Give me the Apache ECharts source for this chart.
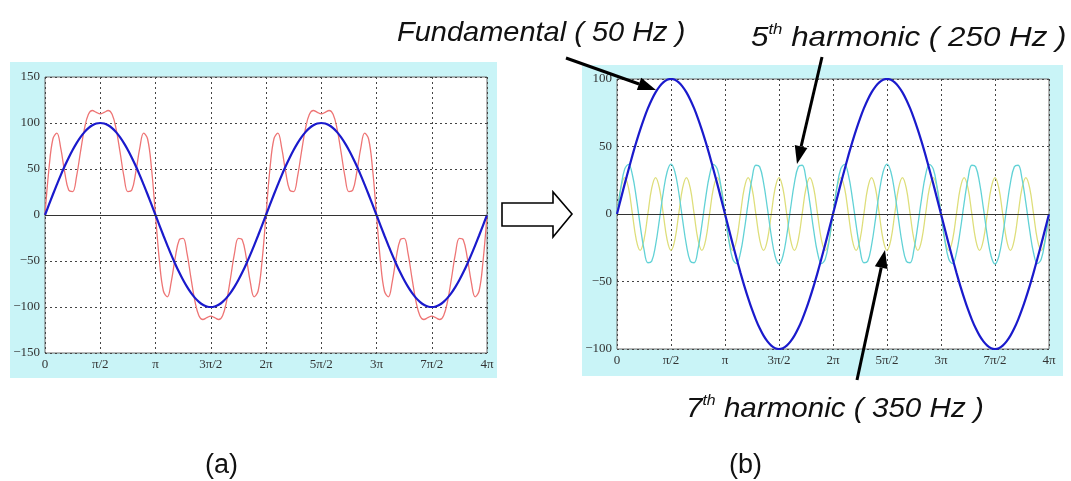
<!DOCTYPE html>
<html>
<head>
<meta charset="utf-8">
<script src="https://cdn.jsdelivr.net/npm/echarts@6/dist/echarts.min.js"></script>
<style>
html,body{margin:0;padding:0;background:#fff;}
#chart{width:1071px;height:481px;}
</style>
</head>
<body>
<div id="chart"></div>
<script>
// Sample spacing along x, in units of pi (x = index * X_STEP * pi)
const X_STEP = 1 / 28;
const X_TICK_LABELS = ['0', 'π/2', 'π', '3π/2', '2π', '5π/2', '3π', '7π/2', '4π'];

// Fundamental (50 Hz)
const fundamental = [
  0,
  11.2, 22.3, 33.0, 43.4, 53.2, 62.3, 70.7, 78.2, 84.7, 90.1, 94.4, 97.5, 99.4, 100, 99.4, 97.5, 94.4, 90.1, 84.7, 78.2, 70.7, 62.3, 53.2, 43.4, 33.0, 22.3, 11.2, 0,
  -11.2, -22.3, -33.0, -43.4, -53.2, -62.3, -70.7, -78.2, -84.7, -90.1, -94.4, -97.5, -99.4, -100, -99.4, -97.5, -94.4, -90.1, -84.7, -78.2, -70.7, -62.3, -53.2, -43.4, -33.0, -22.3, -11.2, 0,
  11.2, 22.3, 33.0, 43.4, 53.2, 62.3, 70.7, 78.2, 84.7, 90.1, 94.4, 97.5, 99.4, 100, 99.4, 97.5, 94.4, 90.1, 84.7, 78.2, 70.7, 62.3, 53.2, 43.4, 33.0, 22.3, 11.2, 0,
  -11.2, -22.3, -33.0, -43.4, -53.2, -62.3, -70.7, -78.2, -84.7, -90.1, -94.4, -97.5, -99.4, -100, -99.4, -97.5, -94.4, -90.1, -84.7, -78.2, -70.7, -62.3, -53.2, -43.4, -33.0, -22.3, -11.2, 0
];

// 5th harmonic (250 Hz)
const harmonic5 = [
  0,
  19.7, 33.3, 36.8, 28.9, 12.2, -8.2, -26.2, -36.1, -34.9, -23.1, -4.1, 16.1, 31.3, 37, 31.3, 16.1, -4.1, -23.1, -34.9, -36.1, -26.2, -8.2, 12.2, 28.9, 36.8, 33.3, 19.7, 0,
  -19.7, -33.3, -36.8, -28.9, -12.2, 8.2, 26.2, 36.1, 34.9, 23.1, 4.1, -16.1, -31.3, -37, -31.3, -16.1, 4.1, 23.1, 34.9, 36.1, 26.2, 8.2, -12.2, -28.9, -36.8, -33.3, -19.7, 0,
  19.7, 33.3, 36.8, 28.9, 12.2, -8.2, -26.2, -36.1, -34.9, -23.1, -4.1, 16.1, 31.3, 37, 31.3, 16.1, -4.1, -23.1, -34.9, -36.1, -26.2, -8.2, 12.2, 28.9, 36.8, 33.3, 19.7, 0,
  -19.7, -33.3, -36.8, -28.9, -12.2, 8.2, 26.2, 36.1, 34.9, 23.1, 4.1, -16.1, -31.3, -37, -31.3, -16.1, 4.1, 23.1, 34.9, 36.1, 26.2, 8.2, -12.2, -28.9, -36.8, -33.3, -19.7, 0
];

// 7th harmonic (350 Hz)
const harmonic7 = [
  0,
  19.1, 27, 19.1, 0, -19.1, -27, -19.1, 0, 19.1, 27, 19.1, 0, -19.1, -27, -19.1, 0, 19.1, 27, 19.1, 0, -19.1, -27, -19.1, 0, 19.1, 27, 19.1, 0,
  -19.1, -27, -19.1, 0, 19.1, 27, 19.1, 0, -19.1, -27, -19.1, 0, 19.1, 27, 19.1, 0, -19.1, -27, -19.1, 0, 19.1, 27, 19.1, 0, -19.1, -27, -19.1, 0,
  19.1, 27, 19.1, 0, -19.1, -27, -19.1, 0, 19.1, 27, 19.1, 0, -19.1, -27, -19.1, 0, 19.1, 27, 19.1, 0, -19.1, -27, -19.1, 0, 19.1, 27, 19.1, 0,
  -19.1, -27, -19.1, 0, 19.1, 27, 19.1, 0, -19.1, -27, -19.1, 0, 19.1, 27, 19.1, 0, -19.1, -27, -19.1, 0, 19.1, 27, 19.1, 0, -19.1, -27, -19.1, 0
];

// Distorted waveform (fundamental + 5th + 7th)
const distorted = [
  0,
  50.0, 82.6, 88.9, 72.3, 46.3, 27.1, 25.4, 42.1, 68.9, 94.0, 109.4, 113.6, 111.6, 110, 111.6, 113.6, 109.4, 94.0, 68.9, 42.1, 25.4, 27.1, 46.3, 72.3, 88.9, 82.6, 50.0, 0,
  -50.0, -82.6, -88.9, -72.3, -46.3, -27.1, -25.4, -42.1, -68.9, -94.0, -109.4, -113.6, -111.6, -110, -111.6, -113.6, -109.4, -94.0, -68.9, -42.1, -25.4, -27.1, -46.3, -72.3, -88.9, -82.6, -50.0, 0,
  50.0, 82.6, 88.9, 72.3, 46.3, 27.1, 25.4, 42.1, 68.9, 94.0, 109.4, 113.6, 111.6, 110, 111.6, 113.6, 109.4, 94.0, 68.9, 42.1, 25.4, 27.1, 46.3, 72.3, 88.9, 82.6, 50.0, 0,
  -50.0, -82.6, -88.9, -72.3, -46.3, -27.1, -25.4, -42.1, -68.9, -94.0, -109.4, -113.6, -111.6, -110, -111.6, -113.6, -109.4, -94.0, -68.9, -42.1, -25.4, -27.1, -46.3, -72.3, -88.9, -82.6, -50.0, 0
];

function pairs(arr) { return arr.map((v, i) => [i * X_STEP, v]); }

const chart = echarts.init(document.getElementById('chart'), null, {renderer: 'canvas'});

const serif = '"Liberation Serif", "Times New Roman", serif';
const sans = '"Liberation Sans", Arial, sans-serif';

function xAxisCfg(gi) {
  return {
    type: 'value', gridIndex: gi, min: 0, max: 4, interval: 0.5,
    axisLine: {show: false}, axisTick: {show: false},
    axisLabel: {
      fontFamily: serif, fontSize: 13, color: '#333', margin: 5,
      formatter: v => X_TICK_LABELS[Math.round(v / 0.5)]
    },
    splitLine: {show: true, lineStyle: {color: '#444', type: [2, 3], width: 1}}
  };
}
function yAxisCfg(gi, mn, mx) {
  return {
    type: 'value', gridIndex: gi, min: mn, max: mx, interval: 50,
    axisLine: {show: false}, axisTick: {show: false},
    axisLabel: {
      fontFamily: serif, fontSize: 13, color: '#333', margin: 5,
      formatter: v => (v < 0 ? '−' + (-v) : String(v))
    },
    splitLine: {show: true, lineStyle: {color: '#444', type: [2, 3], width: 1}}
  };
}

const zeroLine = {
  silent: true, symbol: 'none', label: {show: false},
  lineStyle: {color: '#333', type: 'solid', width: 1},
  data: [{yAxis: 0}]
};

function arrow(x1, y1, x2, y2) {
  const ang = Math.atan2(y2 - y1, x2 - x1);
  const L = 18, W = 6.5;
  const bx = x2 - L * Math.cos(ang), by = y2 - L * Math.sin(ang);
  const px = -Math.sin(ang) * W, py = Math.cos(ang) * W;
  return [
    {type: 'line', shape: {x1: x1, y1: y1, x2: bx, y2: by}, style: {stroke: '#000', lineWidth: 3}, z: 100},
    {type: 'polygon', shape: {points: [[x2, y2], [bx + px, by + py], [bx - px, by - py]]}, style: {fill: '#000'}, z: 100}
  ];
}

function supText(x, y, sx, base, rest) {
  return {type: 'text', z: 100, x: x, y: y, scaleX: sx,
    style: {x: 0, y: 0, text: '{a|' + base + '}{s|th}{a|' + rest + '}', textAlign: 'left', textVerticalAlign: 'middle',
      rich: {a: {font: 'italic 28px ' + sans, fill: '#111', lineHeight: 30, verticalAlign: 'bottom'},
             s: {font: 'italic 15px ' + sans, fill: '#111', lineHeight: 30, verticalAlign: 'top', padding: [0, 0, 14, 0]}}}};
}

const graphics = [
  {type: 'rect', shape: {x: 10, y: 62, width: 487, height: 316}, style: {fill: '#c9f4f7'}, z: -10},
  {type: 'rect', shape: {x: 582, y: 65, width: 481, height: 311}, style: {fill: '#c9f4f7'}, z: -10},
  {type: 'polygon', shape: {points: [[502, 203], [553, 203], [553, 192], [572, 214], [553, 237], [553, 226], [502, 226]]},
   style: {fill: '#fff', stroke: '#000', lineWidth: 1.6}, z: 100},
  ...arrow(566, 58, 656, 90),
  ...arrow(822, 57, 797, 164),
  ...arrow(857, 380, 885, 250),
  {type: 'text', z: 100, x: 397, y: 33, scaleX: 1.035,
   style: {x: 0, y: 0, text: 'Fundamental ( 50 Hz )', font: 'italic 28px ' + sans, fill: '#111', textAlign: 'left', textVerticalAlign: 'middle'}},
  supText(751, 37, 1.12, '5', ' harmonic ( 250 Hz )'),
  supText(686, 408, 1.057, '7', ' harmonic ( 350 Hz )'),
  {type: 'text', z: 100, style: {x: 205, y: 466, text: '(a)', font: '27px ' + sans, fill: '#111', textAlign: 'left', textVerticalAlign: 'middle'}},
  {type: 'text', z: 100, style: {x: 729, y: 466, text: '(b)', font: '27px ' + sans, fill: '#111', textAlign: 'left', textVerticalAlign: 'middle'}}
];

const option = {
  animation: false,
  backgroundColor: '#fff',
  grid: [
    {left: 45, right: 1071 - 487, top: 77, bottom: 481 - 353, show: true, backgroundColor: '#fff', borderColor: '#6e6e6e', borderWidth: 1},
    {left: 617, right: 1071 - 1049, top: 79, bottom: 481 - 349, show: true, backgroundColor: '#fff', borderColor: '#6e6e6e', borderWidth: 1}
  ],
  xAxis: [xAxisCfg(0), xAxisCfg(1)],
  yAxis: [yAxisCfg(0, -150, 150), yAxisCfg(1, -100, 100)],
  graphic: {elements: graphics},
  series: [
    {type: 'line', name: 'Distorted', xAxisIndex: 0, yAxisIndex: 0, data: pairs(distorted), showSymbol: false, smooth: 0.4,
     lineStyle: {color: '#ee7575', width: 1.3}, markLine: zeroLine, z: 3},
    {type: 'line', name: 'Fundamental a', xAxisIndex: 0, yAxisIndex: 0, data: pairs(fundamental), showSymbol: false, smooth: 0.4,
     lineStyle: {color: '#1a1acc', width: 2.2}, z: 4},
    {type: 'line', name: '7th harmonic', xAxisIndex: 1, yAxisIndex: 1, data: pairs(harmonic7), showSymbol: false, smooth: 0.4,
     lineStyle: {color: '#dede7a', width: 1.3}, markLine: zeroLine, z: 3},
    {type: 'line', name: '5th harmonic', xAxisIndex: 1, yAxisIndex: 1, data: pairs(harmonic5), showSymbol: false, smooth: 0.4,
     lineStyle: {color: '#62d2d6', width: 1.3}, z: 3},
    {type: 'line', name: 'Fundamental b', xAxisIndex: 1, yAxisIndex: 1, data: pairs(fundamental), showSymbol: false, smooth: 0.4,
     lineStyle: {color: '#1a1acc', width: 2.2}, z: 4}
  ]
};
chart.setOption(option);
</script>
</body>
</html>
